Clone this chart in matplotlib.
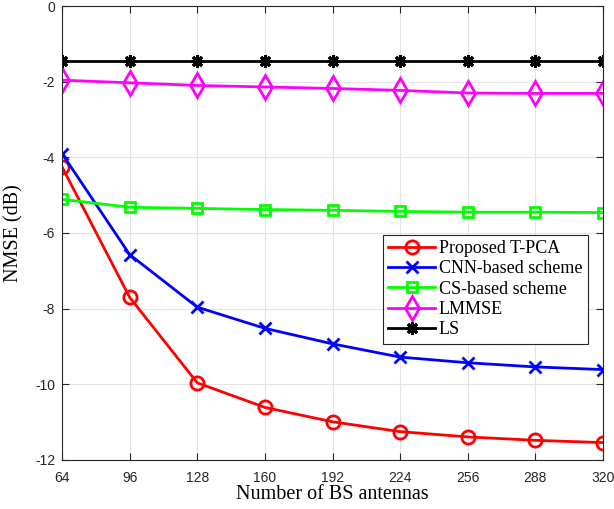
import numpy as np
import matplotlib.pyplot as plt

plt.rcParams['axes.unicode_minus'] = False

# =============================
# DATA
# =============================
antennas = [64, 96, 128, 160, 192, 224, 256, 288, 320]

nmse_tpca = [-4.25, -7.70, -9.96, -10.61, -10.99, -11.25, -11.39, -11.48, -11.54]
nmse_cnn = [-3.90, -6.57, -7.96, -8.52, -8.93, -9.28, -9.43, -9.54, -9.61]
nmse_cs = [-5.11, -5.32, -5.35, -5.38, -5.40, -5.43, -5.45, -5.45, -5.46]
nmse_lmmse = [-1.96, -2.03, -2.10, -2.14, -2.18, -2.23, -2.30, -2.31, -2.31]
nmse_ls = [-1.45, -1.45, -1.45, -1.45, -1.45, -1.45, -1.45, -1.45, -1.45]

labels = ["Proposed T-PCA", "CNN-based scheme", "CS-based scheme", "LMMSE", "LS"]
yticks = [0, -2, -4, -6, -8, -10, -12]

# =============================
# PLOT
# =============================
fig = plt.figure(figsize=(6.14, 5.09), dpi=100)
ax = fig.add_axes([62 / 614, 49 / 509, 541 / 614, 454 / 509])

lw = 2.0
ax.plot(antennas, nmse_tpca, color="red", marker="o", ms=9.5, mfc="none", mew=2, lw=lw, label=labels[0])
ax.plot(antennas, nmse_cnn, color="blue", marker="x", ms=8, mew=2, lw=lw, label=labels[1])
ax.plot(antennas, nmse_cs, color=(0, 1, 0), marker="s", ms=7, mfc="none", mew=2, lw=lw, label=labels[2])
ax.plot(antennas, nmse_lmmse, color="magenta", marker="d", ms=12.5, mfc="none", mew=2, lw=lw, label=labels[3])
ax.plot(antennas, nmse_ls, color="black", marker=(8, 2, 0), ms=9, mew=2.2, lw=lw, label=labels[4])

ax.set_xlim(64, 320)
ax.set_ylim(-12, 0)
ax.set_xticks(antennas)
ax.set_yticks(yticks)
ax.grid(True, color="#e3e3e3", lw=0.8)
ax.set_axisbelow(True)
ax.tick_params(direction="in", top=True, right=True, labelsize=10, length=5, pad=5, color="#262626")
ax.tick_params(axis="x", pad=8)
for lab in ax.get_xticklabels() + ax.get_yticklabels():
    lab.set_family("Liberation Sans")
    lab.set_color("#262626")
for s in ax.spines.values():
    s.set_color("#262626")
    s.set_linewidth(0.8)

ax.set_xlabel("Number of BS antennas", family="Liberation Serif", fontsize=14.5, labelpad=0)
ax.set_ylabel("NMSE (dB)", family="Liberation Serif", fontsize=14.5, labelpad=8)

leg = ax.legend(loc="upper right", bbox_to_anchor=(0.972, 0.496), borderaxespad=0,
                prop={"family": "Liberation Serif", "size": 13}, fancybox=False,
                edgecolor="#262626", framealpha=1, handlelength=2.6, handletextpad=0.2,
                labelspacing=0.18, borderpad=0.3)
leg.get_frame().set_linewidth(0.8)

fig.savefig("out.png", dpi=100)
